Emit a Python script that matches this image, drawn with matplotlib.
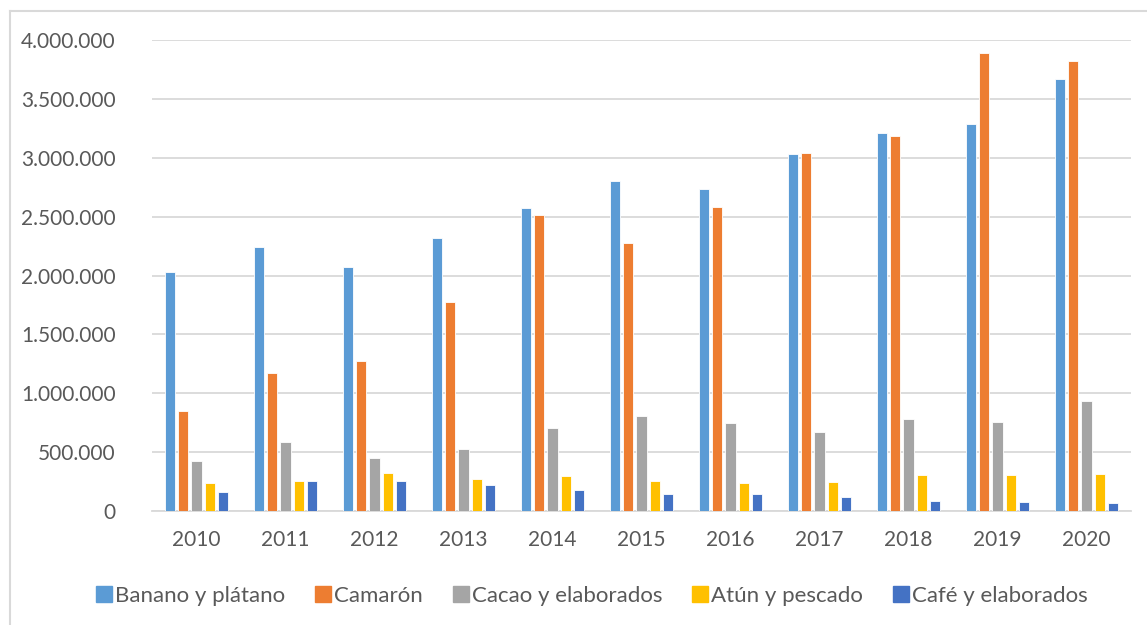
import matplotlib.pyplot as plt
from matplotlib.ticker import FuncFormatter
from matplotlib.lines import Line2D

plt.rcParams["font.family"] = ["Lato", "DejaVu Sans"]

years = ["2010", "2011", "2012", "2013", "2014", "2015", "2016", "2017", "2018", "2019", "2020"]
series_names = ["Banano y plátano", "Camarón", "Cacao y elaborados", "Atún y pescado", "Café y elaborados"]

banano = [2028000, 2244000, 2076000, 2320000, 2572000, 2805000, 2731000, 3028000, 3212000, 3289000, 3666000]
camaron = [847000, 1176000, 1272000, 1779000, 2510000, 2275000, 2578000, 3040000, 3187000, 3890000, 3822000]
cacao = [422000, 584000, 453000, 524000, 708000, 810000, 748000, 669000, 785000, 759000, 932000]
atun = [235000, 252000, 320000, 275000, 295000, 252000, 241000, 249000, 303000, 309000, 312000]
cafe = [159000, 258000, 258000, 218000, 176000, 147000, 147000, 116000, 82000, 79000, 68000]

colors = ["#5B9BD5", "#ED7D31", "#A5A5A5", "#FFC000", "#4472C4"]
text_color = "#595959"
grid_color = "#D9D9D9"

fig = plt.figure(figsize=(11.47, 6.25), dpi=100)
ax = fig.add_axes([152 / 1147, 1 - 511 / 625, (1131 - 152) / 1147, (511 - 40) / 625])

pitch = 0.15
bar_w = 0.118
all_series = [banano, camaron, cacao, atun, cafe]
for k, vals in enumerate(all_series):
    xs = [i + (k - 2) * pitch for i in range(len(years))]
    ax.bar(xs, vals, width=bar_w, color=colors[k], edgecolor="white",
           linewidth=0.6, label=series_names[k], zorder=3)

ax.set_xlim(-0.5, len(years) - 0.5)
ax.set_ylim(0, 4000000)
ax.set_yticks(range(0, 4000001, 500000))
ax.yaxis.set_major_formatter(FuncFormatter(lambda v, p: f"{int(v):,}".replace(",", ".")))
ax.set_xticks(range(len(years)))
ax.set_xticklabels(years)
ax.grid(axis="y", color=grid_color, linewidth=1.3, zorder=0)
ax.tick_params(axis="both", length=0, labelsize=15, colors=text_color)
ax.tick_params(axis="y", pad=26)
ax.tick_params(axis="x", pad=14)
for side in ["top", "right", "left"]:
    ax.spines[side].set_visible(False)
ax.spines["bottom"].set_color(grid_color)
ax.spines["bottom"].set_linewidth(1.3)

# legend below the plot
handles = [Line2D([0], [0], marker="s", linestyle="", markersize=11,
                  markerfacecolor=c, markeredgecolor=c) for c in colors]
fig.legend(handles, series_names, loc="center", bbox_to_anchor=(0.515, 1 - 596 / 625),
           ncol=5, frameon=False, fontsize=16, labelcolor=text_color,
           handletextpad=0.05, columnspacing=1.25, handlelength=0.9)

# chart border like the spreadsheet frame
fig.add_artist(Line2D([10 / 1147, 10 / 1147], [0, 1 - 11 / 625], color=grid_color,
                      linewidth=1.5, transform=fig.transFigure))
fig.add_artist(Line2D([10 / 1147, 1], [1 - 11 / 625, 1 - 11 / 625], color=grid_color,
                      linewidth=1.5, transform=fig.transFigure))

plt.savefig("out.png", dpi=100)
